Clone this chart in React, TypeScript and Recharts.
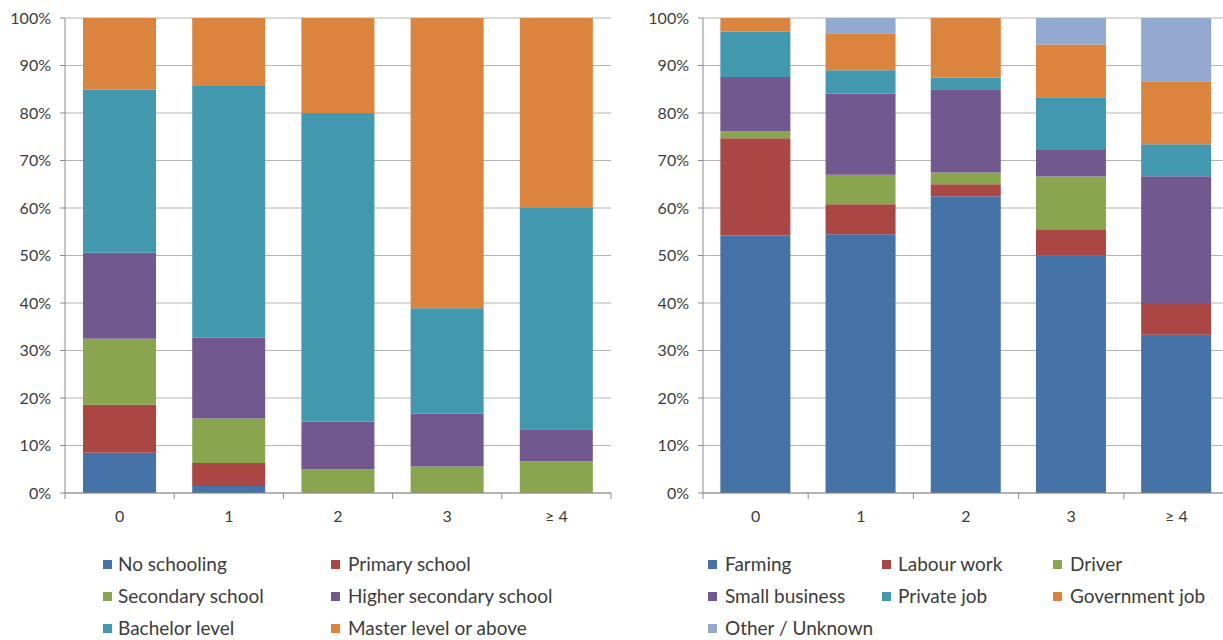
import { BarChart, Bar, XAxis, YAxis, CartesianGrid, Legend } from 'recharts'

const categories = ['0', '1', '2', '3', '≥ 4']

// left panel: education
const noSchooling = [8.5, 1.5, 0, 0, 0]
const primarySchool = [10.1, 4.8, 0, 0, 0]
const secondarySchool = [13.9, 9.4, 5, 5.6, 6.7]
const higherSecondary = [18.1, 17.0, 10, 11.1, 6.7]
const bachelorLevel = [34.3, 53.0, 65, 22.2, 46.6]
const masterLevel = [15.1, 14.3, 20, 61.1, 40]

// right panel: occupation
const farming = [54.2, 54.5, 62.5, 50, 33.3]
const labourWork = [20.5, 6.3, 2.5, 5.6, 6.7]
const driver = [1.4, 6.2, 2.5, 11.1, 0]
const smallBusiness = [11.5, 17.1, 17.5, 5.6, 26.7]
const privateJob = [9.5, 4.9, 2.5, 11.1, 6.7]
const governmentJob = [2.9, 7.8, 12.5, 11.1, 13.3]
const otherUnknown = [0, 3.2, 0, 5.6, 13.3]

const yTicks = [0, 0.1, 0.2, 0.3, 0.4, 0.5, 0.6, 0.7, 0.8, 0.9, 1]

const BLUE = '#4572a7'
const RED = '#aa4643'
const GREEN = '#89a54e'
const PURPLE = '#71588f'
const TEAL = '#4198af'
const ORANGE = '#db843d'
const LIGHT = '#93a9cf'

const FONT = 'Lato, "Open Sans", sans-serif'
const TEXT = '#3c3c3c'
const AXIS = '#8c8c8c'

const eduSeries = [
  { key: 'No schooling', values: noSchooling, color: BLUE },
  { key: 'Primary school', values: primarySchool, color: RED },
  { key: 'Secondary school', values: secondarySchool, color: GREEN },
  { key: 'Higher secondary school', values: higherSecondary, color: PURPLE },
  { key: 'Bachelor level', values: bachelorLevel, color: TEAL },
  { key: 'Master level or above', values: masterLevel, color: ORANGE },
]

const occSeries = [
  { key: 'Farming', values: farming, color: BLUE },
  { key: 'Labour work', values: labourWork, color: RED },
  { key: 'Driver', values: driver, color: GREEN },
  { key: 'Small business', values: smallBusiness, color: PURPLE },
  { key: 'Private job', values: privateJob, color: TEAL },
  { key: 'Government job', values: governmentJob, color: ORANGE },
  { key: 'Other / Unknown', values: otherUnknown, color: LIGHT },
]

type Series = { key: string; values: number[]; color: string }
type Col = { sq: number; tx: number }

const toRows = (series: Series[]) =>
  categories.map((c, i) => {
    const row: Record<string, string | number> = { cat: c }
    series.forEach((s) => (row[s.key] = s.values[i]))
    return row
  })

// Excel style: tick marks sit between the categories
const makeTick = (band: number) => (props: any) => {
  const { x, y, payload, index } = props
  const left = x - band / 2
  return (
    <g>
      <line x1={left} x2={left} y1={y - 6} y2={y} stroke={AXIS} />
      {index === categories.length - 1 && (
        <line x1={x + band / 2} x2={x + band / 2} y1={y - 6} y2={y} stroke={AXIS} />
      )}
      <text x={x} y={y} dy={23} textAnchor="middle" fill={TEXT} fontSize={16} fontFamily={FONT}>
        {payload.value}
      </text>
    </g>
  )
}

const rowTops = [31, 63, 95]

const makeLegend = (series: Series[], cols: Col[], width: number) => () => (
  <div style={{ position: 'relative', width, height: 117 }}>
    {series.map((s, i) => {
      const col = cols[i % cols.length]
      const top = rowTops[Math.floor(i / cols.length)]
      return (
        <div key={s.key} style={{ position: 'absolute', left: 0, top, height: 20 }}>
          <span
            style={{
              position: 'absolute',
              left: col.sq,
              top: 6,
              width: 9,
              height: 9,
              background: s.color,
            }}
          />
          <span
            style={{
              position: 'absolute',
              left: col.tx,
              top: 0,
              whiteSpace: 'nowrap',
              fontFamily: FONT,
              fontSize: 19,
              lineHeight: '20px',
              color: TEXT,
            }}
          >
            {s.key}
          </span>
        </div>
      )
    })}
  </div>
)

function Panel({
  series,
  width,
  marginLeft,
  marginRight,
  band,
  legendCols,
}: {
  series: Series[]
  width: number
  marginLeft: number
  marginRight: number
  band: number
  legendCols: Col[]
}) {
  return (
    <BarChart
      width={width}
      height={640}
      data={toRows(series)}
      stackOffset="expand"
      barCategoryGap="16.5%"
      margin={{ top: 18, right: marginRight, left: marginLeft, bottom: 0 }}
    >
      <CartesianGrid vertical={false} stroke="#b4b4b4" />
      <XAxis
        dataKey="cat"
        height={30}
        stroke={AXIS}
        tickLine={false}
        tickSize={6}
        tickMargin={0}
        tick={makeTick(band)}
        interval={0}
      />
      <YAxis
        width={60}
        ticks={yTicks}
        domain={[0, 1]}
        stroke={AXIS}
        tickSize={5}
        tickMargin={9}
        tickFormatter={(v) => `${Math.round(v * 100)}%`}
        tick={{ fill: TEXT, fontSize: 16, fontFamily: FONT }}
      />
      <Legend
        verticalAlign="bottom"
        wrapperStyle={{ left: 0, width, padding: 0 }}
        content={makeLegend(series, legendCols, width)}
      />
      {series.map((s) => (
        <Bar key={s.key} dataKey={s.key} stackId="a" fill={s.color} isAnimationActive={false} />
      ))}
    </BarChart>
  )
}

export default function App() {
  return (
    <div
      style={{
        position: 'absolute',
        left: 0,
        top: 0,
        width: 1223,
        height: 640,
        overflow: 'hidden',
        background: '#fff',
      }}
    >
      <div style={{ position: 'absolute', left: 0, top: 0 }}>
        <Panel
          series={eduSeries}
          width={620}
          marginLeft={5}
          marginRight={9}
          band={109.2}
          legendCols={[
            { sq: 103, tx: 118 },
            { sq: 331, tx: 348 },
          ]}
        />
      </div>
      <div style={{ position: 'absolute', left: 620, top: 0 }}>
        <Panel
          series={occSeries}
          width={609}
          marginLeft={23}
          marginRight={0}
          band={105.2}
          legendCols={[
            { sq: 88, tx: 105 },
            { sq: 262, tx: 278 },
            { sq: 433, tx: 450 },
          ]}
        />
      </div>
    </div>
  )
}
